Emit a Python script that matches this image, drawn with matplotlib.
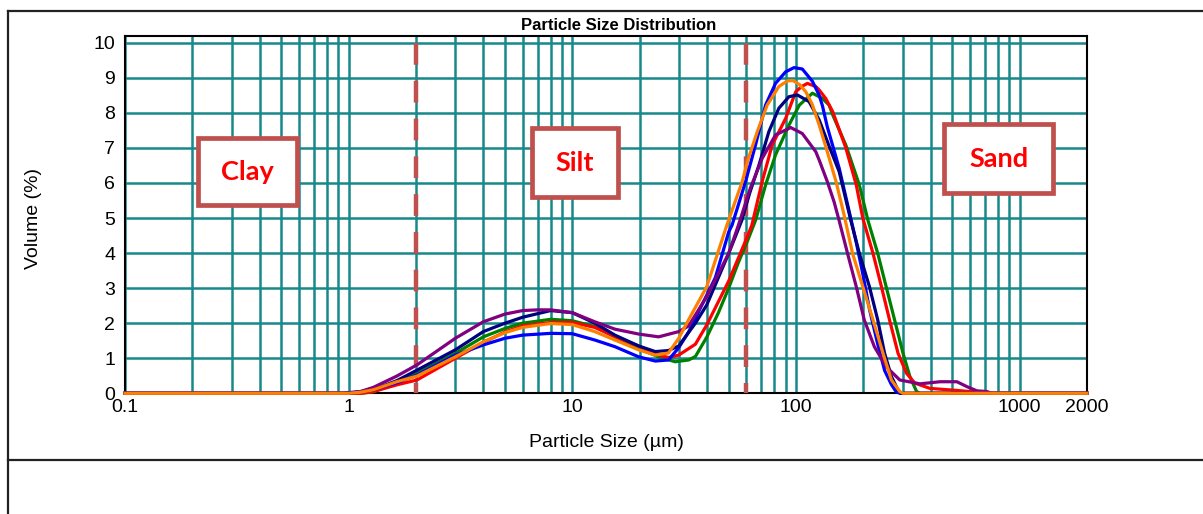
import matplotlib
matplotlib.use("Agg")
import matplotlib.pyplot as plt
from matplotlib.lines import Line2D
from matplotlib.patches import Rectangle
from matplotlib.ticker import LogLocator, NullFormatter

# ---- data (size in um, volume in %) ----
blue_x = [0.1, 0.95, 1.0, 1.13, 1.29, 1.64, 2.02, 3.0, 4.0, 5.0, 6.0, 8.0, 10, 12.6, 15.5, 19.8, 23.5, 26.9,
          29.9, 33.1, 39.9, 43.6, 50, 51.8, 59.5, 65.9, 73.1, 81, 89.9, 98, 106.7, 118.4, 127, 131.3, 138,
          156, 173, 186, 199, 213, 232, 249, 267, 280, 291, 2000]
blue_y = [0, 0, 0.02, 0.05, 0.10, 0.30, 0.52, 1.09, 1.38, 1.57, 1.66, 1.71, 1.70, 1.52, 1.33, 1.04, 0.92, 0.95,
          1.30, 1.75, 2.80, 3.30, 4.60, 4.80, 6.04, 7.08, 8.22, 8.84, 9.17, 9.29, 9.25, 8.90, 8.50, 8.20, 7.60,
          6.42, 5.18, 4.30, 3.40, 2.40, 1.40, 0.65, 0.25, 0.05, 0, 0]

orange_x = [0.1, 1.0, 1.13, 1.29, 1.64, 2.02, 3.0, 4.0, 5.0, 6.0, 8.0, 10, 12.6, 15.5, 19.8, 23.5, 26.9, 29.9,
            33.1, 39.9, 49.1, 57.5, 60.9, 67.1, 74.3, 83.8, 91.5, 97, 104, 110.6, 118, 127, 138, 151, 164, 179,
            199, 221, 245, 267, 291, 301, 2000]
orange_y = [0, 0, 0.03, 0.10, 0.33, 0.49, 1.04, 1.47, 1.73, 1.88, 1.99, 1.96, 1.76, 1.52, 1.24, 1.09, 1.15, 1.57,
            2.10, 3.04, 4.80, 6.04, 6.65, 7.46, 8.22, 8.75, 8.91, 8.92, 8.80, 8.60, 8.25, 7.65, 6.89, 6.04, 5.09,
            3.99, 3.04, 2.09, 1.14, 0.38, 0.05, 0, 0]

navy_x = [0.1, 1.0, 1.13, 1.29, 1.64, 2.02, 3.0, 4.0, 5.0, 6.0, 8.0, 10, 12.6, 15.5, 19.8, 23.5, 26.9, 29.9,
          35.5, 39.9, 50, 57.3, 62, 68.3, 75.6, 83.8, 93, 101.4, 114.4, 126.9, 140.6, 156, 176, 192, 213, 232,
          249, 267, 286, 295, 2000]
navy_y = [0, 0, 0.04, 0.10, 0.36, 0.66, 1.24, 1.76, 2.00, 2.17, 2.36, 2.30, 2.00, 1.66, 1.35, 1.19, 1.22, 1.35,
          2.00, 2.52, 3.99, 4.94, 5.70, 6.51, 7.46, 8.13, 8.46, 8.51, 8.32, 7.80, 7.05, 6.32, 4.92, 3.99, 3.04,
          2.09, 1.14, 0.48, 0.09, 0, 0]

red_x = [0.1, 1.13, 1.29, 1.64, 2.02, 3.0, 4.0, 5.0, 6.0, 8.0, 10, 12.6, 15.5, 19.8, 23.5, 26.9, 29.9, 35.5,
         39.9, 50, 60.9, 63.5, 70.6, 78.2, 89.9, 99.7, 106, 112.4, 122.6, 127, 135.8, 146, 167, 186, 199, 221,
         241, 262, 286, 312, 340, 397, 504, 600, 700, 750, 2000]
red_y = [0, 0, 0.05, 0.24, 0.38, 1.00, 1.45, 1.75, 1.92, 2.02, 2.02, 1.88, 1.62, 1.35, 1.12, 1.02, 1.09, 1.40,
         1.95, 3.20, 4.50, 4.80, 6.04, 7.08, 7.84, 8.60, 8.75, 8.84, 8.75, 8.65, 8.41, 8.03, 7.00, 5.94, 4.99,
         3.99, 3.04, 2.09, 1.14, 0.57, 0.29, 0.14, 0.09, 0.05, 0.02, 0, 0]

green_x = [0.1, 1.13, 1.29, 1.64, 2.02, 3.0, 4.0, 5.0, 6.0, 8.0, 10, 12.6, 15.5, 19.8, 24.3, 28.8, 33.1, 35.5,
           39.9, 45, 50, 55, 60.9, 66, 73.1, 81, 93, 103.5, 118.4, 131.3, 140.6, 146, 167, 192, 210, 232, 253,
           276, 301, 323, 346, 358, 2000]
green_y = [0, 0, 0.04, 0.30, 0.57, 1.14, 1.61, 1.85, 2.00, 2.11, 2.07, 1.90, 1.61, 1.28, 1.04, 0.90, 0.95, 1.05,
           1.60, 2.30, 3.00, 3.70, 4.37, 4.94, 5.94, 6.80, 7.65, 8.22, 8.56, 8.41, 8.22, 7.94, 7.08, 5.94, 4.92,
           3.99, 3.04, 2.09, 1.14, 0.48, 0.05, 0, 0]

purple_x = [0.1, 1.0, 1.13, 1.29, 1.64, 2.02, 3.0, 4.0, 5.0, 6.0, 7.0, 8.0, 10, 12.6, 15.5, 19.8, 24.3, 29.9,
            33.1, 39.9, 50, 55.3, 62.5, 70.6, 81, 94.7, 106.7, 122.6, 127, 138, 148, 156, 170, 186, 202, 224,
            253, 291, 358, 441, 524, 581, 644, 714, 750, 2000]
purple_y = [0, 0, 0.05, 0.17, 0.49, 0.81, 1.57, 2.04, 2.26, 2.36, 2.38, 2.38, 2.30, 2.04, 1.83, 1.69, 1.61, 1.76,
            1.92, 2.76, 3.99, 4.80, 5.85, 6.70, 7.37, 7.58, 7.41, 6.89, 6.65, 6.04, 5.46, 4.92, 3.99, 3.04, 2.09,
            1.33, 0.76, 0.38, 0.27, 0.33, 0.33, 0.19, 0.07, 0.05, 0, 0]

boundary_sizes = [2, 60]
zone_labels = ["Clay", "Silt", "Sand"]
xtick_values = [0.1, 1, 10, 100, 1000, 2000]
xtick_labels = ["0.1", "1", "10", "100", "1000", "2000"]
ytick_values = list(range(0, 11))

# ---- figure ----
W, H = 1203, 514
fig = plt.figure(figsize=(W / 100, H / 100), dpi=100)
narrow = ["Liberation Sans Narrow", "Liberation Sans", "DejaVu Sans"]

# axes box in pixels: left 125, right 1087, top 35.7, bottom 393.3
ax = fig.add_axes([125 / W, 1 - 393.3 / H, (1087 - 125) / W, (393.3 - 35.7) / H])
ax.set_xscale("log")
ax.set_xlim(0.1, 2000)
ax.set_ylim(0, 10.2)

grid_col = "#17898b"
ax.xaxis.set_minor_locator(LogLocator(base=10, subs=range(2, 10), numticks=20))
ax.xaxis.set_minor_formatter(NullFormatter())
ax.grid(True, which="both", axis="x", color=grid_col, lw=1.8)
ax.grid(True, which="major", axis="y", color=grid_col, lw=1.8)
ax.set_axisbelow(True)

ax.set_xticks(xtick_values)
ax.set_xticklabels(xtick_labels)
ax.set_yticks(ytick_values)
ax.tick_params(axis="both", which="both", length=0)
ax.tick_params(axis="y", pad=7)
ax.tick_params(axis="x", pad=4)
for lab in ax.get_xticklabels() + ax.get_yticklabels():
    lab.set_family(narrow)
    lab.set_fontsize(14)

for s in ax.spines.values():
    s.set_color("black")
    s.set_linewidth(1.5)
    s.set_zorder(1.5)

# zone boundaries
for b in boundary_sizes:
    ax.plot([b, b], [10, 0], color="#c0504d", lw=3.2, linestyle=(0, (4.9, 3.6)), zorder=2)

# curves
series = [
    (green_x, green_y, "#008000"),
    (red_x, red_y, "#ff0000"),
    (blue_x, blue_y, "#0000ff"),
    (navy_x, navy_y, "#000080"),
    (purple_x, purple_y, "#800080"),
    (orange_x, orange_y, "#ff8000"),
]
for xs, ys, c in series:
    ax.plot(xs, ys, color=c, lw=2.3, zorder=3, clip_on=False, solid_joinstyle="round")

# zone label boxes (axes fraction)
boxes = [
    (0.0759, 0.5255, 0.1029, 0.1893),
    (0.4231, 0.5480, 0.0894, 0.1930),
    (0.8514, 0.5593, 0.1133, 0.1938),
]
for (bx, by, bw, bh), name in zip(boxes, zone_labels):
    ax.add_patch(Rectangle((bx, by), bw, bh, transform=ax.transAxes, facecolor="white",
                           edgecolor="#c0504d", lw=3.4, zorder=5, clip_on=False))
    ax.text(bx + bw / 2, by + bh / 2, name, transform=ax.transAxes, ha="center", va="center",
            color="#ff0000", fontsize=19.5, fontweight="bold", family=["Lato", "DejaVu Sans"], zorder=6)

# labels and title
ax.set_xlabel("Particle Size (\u00b5m)", family=narrow, fontsize=14)
ax.xaxis.set_label_coords(0.5, -0.115)
ax.set_ylabel("Volume (%)", family=narrow, fontsize=14)
ax.yaxis.set_label_coords(-0.086, 0.49)
fig.text(619 / W, 1 - 26 / H, "Particle Size Distribution", ha="center", va="center",
         fontsize=12, fontweight="bold", family=narrow)

# table-like frame lines around the chart
frame_kw = dict(transform=fig.transFigure, color="#222222", lw=1.6)
fig.add_artist(Line2D([7.7 / W, 1], [1 - 10.7 / H, 1 - 10.7 / H], **frame_kw))
fig.add_artist(Line2D([7.7 / W, 1], [1 - 460 / H, 1 - 460 / H], **frame_kw))
fig.add_artist(Line2D([7.7 / W, 7.7 / W], [1 - 10.7 / H, 0], **frame_kw))

fig.savefig("out.png", dpi=100)
